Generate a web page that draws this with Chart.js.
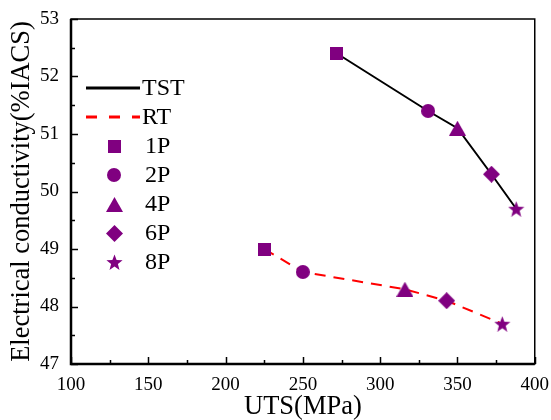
<!DOCTYPE html>
<html lang="en">
<head>
  <meta charset="UTF-8">
  <title>UTS vs electrical conductivity</title>
  <script src="https://cdn.jsdelivr.net/npm/chart.js"></script>
  <style>
    * { margin:0; padding:0; box-sizing:border-box; }
    html,body { width:551px; height:420px; overflow:hidden; background:#fff; }
    #wrap { position:relative; width:551px; height:420px; }
  </style>
</head>
<body>
  <div id="wrap"><canvas id="chart"></canvas></div>

  <script>
    // data
    const passes = ['1P', '2P', '4P', '6P', '8P'];
    const tstUts = [272, 331, 350, 372, 388];
    const tstCond = [52.4, 51.4, 51.1, 50.3, 49.7];
    const rtUts = [225, 250, 316, 343, 379];
    const rtCond = [49.0, 48.6, 48.3, 48.1, 47.7];
    const xTicks = [100, 150, 200, 250, 300, 350, 400];
    const yTicks = [47, 48, 49, 50, 51, 52, 53];

    const PURPLE = '#800080';
    const SERIF = "'Liberation Serif', 'Times New Roman', serif";

    // marker glyphs as small canvases so the sizes match the figure
    function makeMarker(kind, w, h) {
      const c = document.createElement('canvas');
      c.width = w; c.height = h;
      const g = c.getContext('2d');
      g.fillStyle = PURPLE;
      g.beginPath();
      if (kind === 'square') {
        g.rect(0, 0, w, h);
      } else if (kind === 'circle') {
        g.arc(w / 2, h / 2, w / 2, 0, Math.PI * 2);
      } else if (kind === 'triangle') {
        g.moveTo(w / 2, 0); g.lineTo(w, h); g.lineTo(0, h);
      } else if (kind === 'diamond') {
        g.moveTo(w / 2, 0); g.lineTo(w, h / 2); g.lineTo(w / 2, h); g.lineTo(0, h / 2);
      } else {
        const cx = w / 2, cy = h / 2 + 1, R = w / 2, r = R * 0.42;
        for (let i = 0; i < 10; i++) {
          const rad = i % 2 ? r : R;
          const a = -Math.PI / 2 + i * Math.PI / 5;
          g.lineTo(cx + rad * Math.cos(a), cy + rad * Math.sin(a));
        }
      }
      g.closePath();
      g.fill();
      return c;
    }
    const markers = [
      makeMarker('square', 13, 13),
      makeMarker('circle', 14, 14),
      makeMarker('triangle', 17, 15),
      makeMarker('diamond', 17, 17),
      makeMarker('star', 17, 16)
    ];

    const datasets = [
      { label: 'TST', data: tstUts.map((v, i) => ({ x: v, y: tstCond[i] })),
        showLine: true, borderColor: '#000', borderWidth: 2, pointRadius: 0, order: 2 },
      { label: 'RT', data: rtUts.map((v, i) => ({ x: v, y: rtCond[i] })),
        showLine: true, borderColor: '#f00', borderWidth: 2, borderDash: [11, 8], pointRadius: 0, order: 2 }
    ];
    passes.forEach((p, i) => {
      datasets.push({
        label: p,
        data: [{ x: tstUts[i], y: tstCond[i] }, { x: rtUts[i], y: rtCond[i] }],
        showLine: false, pointStyle: markers[i], pointRadius: 8,
        backgroundColor: PURPLE, borderColor: PURPLE, borderWidth: 0, order: 1
      });
    });

    // frame, inward ticks and legend drawn on top
    const decor = {
      id: 'decor',
      afterDraw(chart) {
        const ctx = chart.ctx, a = chart.chartArea;
        const xs = chart.scales.x, ys = chart.scales.y;
        ctx.save();
        ctx.strokeStyle = '#000';
        ctx.lineWidth = 1.5;
        ctx.strokeRect(a.left, a.top, a.right - a.left, a.bottom - a.top);
        ctx.lineWidth = 2.5;
        ctx.beginPath();
        ctx.moveTo(a.left, a.top); ctx.lineTo(a.left, a.bottom); ctx.lineTo(a.right, a.bottom);
        ctx.stroke();

        ctx.lineWidth = 1.5;
        ctx.beginPath();
        for (let v = 100; v <= 400; v += 25) {
          const px = Math.round(xs.getPixelForValue(v)) + 0.5;
          const len = v % 50 === 0 ? 7 : 4;
          ctx.moveTo(px, a.bottom); ctx.lineTo(px, a.bottom - len);
        }
        for (let v = 47; v <= 53; v += 0.5) {
          const py = Math.round(ys.getPixelForValue(v)) + 0.5;
          const len = v % 1 === 0 ? 7 : 4;
          ctx.moveTo(a.left, py); ctx.lineTo(a.left + len, py);
        }
        ctx.stroke();

        // legend
        const lx = 86, tx = 142, row0 = 88, step = 29;
        ctx.font = '24px ' + SERIF;
        ctx.fillStyle = '#000';
        ctx.textBaseline = 'middle';
        chart.data.datasets.forEach((ds, i) => {
          const y = row0 + i * step;
          if (ds.showLine) {
            ctx.save();
            ctx.strokeStyle = ds.borderColor;
            ctx.lineWidth = 3;
            ctx.setLineDash(ds.borderDash ? [11, 12] : []);
            ctx.beginPath(); ctx.moveTo(lx, y); ctx.lineTo(lx + 54, y); ctx.stroke();
            ctx.restore();
            ctx.fillText(ds.label, tx, y + 1);
          } else {
            const m = ds.pointStyle;
            ctx.drawImage(m, Math.round(114 - m.width / 2), Math.round(y - m.height / 2));
            ctx.fillText(ds.label, tx + 3, y + 1);
          }
        });
        ctx.restore();
      }
    };

    new Chart(document.getElementById('chart'), {
      type: 'scatter',
      data: { datasets },
      options: {
        responsive: true,
        maintainAspectRatio: false,
        animation: false,
        events: [],
        layout: { padding: { top: 19, right: 14, left: 0, bottom: 0 } },
        plugins: { legend: { display: false }, tooltip: { enabled: false } },
        scales: {
          x: {
            min: 100, max: 400,
            afterBuildTicks: s => { s.ticks = xTicks.map(v => ({ value: v })); },
            afterFit: s => { s.height = 56; },
            grid: { display: false },
            border: { display: false },
            ticks: { color: '#000', font: { family: SERIF, size: 19 }, padding: 2, maxRotation: 0 },
            title: { display: true, text: 'UTS(MPa)', color: '#000', font: { family: SERIF, size: 26.5, lineHeight: 1 }, padding: 0 }
          },
          y: {
            min: 47, max: 53,
            afterBuildTicks: s => { s.ticks = yTicks.map(v => ({ value: v })); },
            afterFit: s => { s.width = 71; },
            grid: { display: false },
            border: { display: false },
            ticks: { color: '#000', font: { family: SERIF, size: 19 }, padding: 4 },
            title: { display: true, text: 'Electrical conductivity(%IACS)', color: '#000', font: { family: SERIF, size: 26.5, lineHeight: 1 }, padding: { top: 9, bottom: 0 } }
          }
        }
      },
      plugins: [decor]
    });
  </script>
</body>
</html>
